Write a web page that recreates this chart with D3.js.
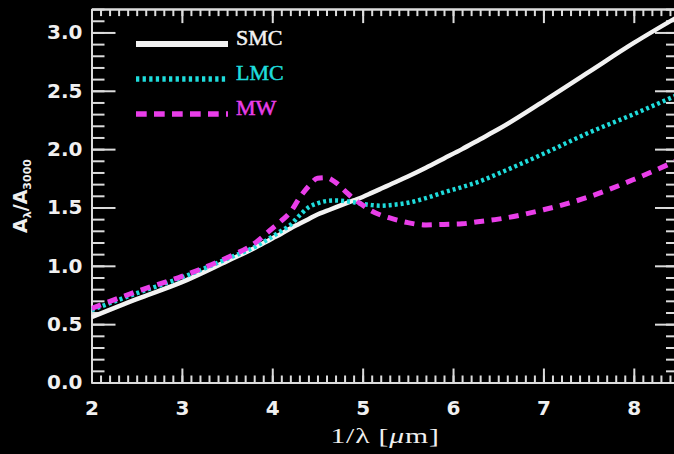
<!DOCTYPE html>
<html>
<head>
<meta charset="utf-8">
<script src="https://cdn.jsdelivr.net/npm/d3@7"></script>
<style>
  html, body { margin: 0; padding: 0; background: #000; }
  svg { display: block; }
</style>
</head>
<body>
<svg id="chart" width="674" height="454"></svg>
<script>
// Extinction curves normalised at 3000 Å, plotted against inverse wavelength.
const waveNumber = [2.0, 2.5, 3.0, 3.5, 3.8, 4.0, 4.1, 4.2, 4.3, 4.4, 4.5, 4.6, 4.7, 4.8, 4.9, 5.0,
                    5.1, 5.2, 5.3, 5.5, 5.7, 5.9, 6.1, 6.3, 6.5, 7.0, 7.5, 8.0, 8.5];
const smc = [0.56, 0.715, 0.86, 1.04, 1.15, 1.235, 1.275, 1.32, 1.36, 1.40, 1.44, 1.47, 1.50, 1.53, 1.56, 1.59,
             1.625, 1.66, 1.695, 1.765, 1.84, 1.92, 2.0, 2.085, 2.17, 2.41, 2.66, 2.91, 3.14];
const lmc = [0.62, 0.765, 0.90, 1.06, 1.16, 1.25, 1.30, 1.35, 1.43, 1.50, 1.535, 1.555, 1.56, 1.555, 1.545, 1.53,
             1.52, 1.515, 1.52, 1.54, 1.58, 1.63, 1.675, 1.725, 1.79, 1.96, 2.14, 2.30, 2.47];
const mw  = [0.635, 0.78, 0.91, 1.07, 1.19, 1.32, 1.385, 1.46, 1.58, 1.68, 1.75, 1.755, 1.715, 1.645, 1.575, 1.52,
             1.47, 1.435, 1.41, 1.37, 1.35, 1.355, 1.36, 1.38, 1.40, 1.48, 1.59, 1.74, 1.91];

const seriesNames = ["SMC", "LMC", "MW"];
const xMajorTicks = [2, 3, 4, 5, 6, 7, 8];
const yMajorTicks = [0.0, 0.5, 1.0, 1.5, 2.0, 2.5, 3.0];
const xMinorTicks = d3.range(20, 86).map(d => d / 10);
const yMinorTicks = d3.range(0, 33).map(d => d / 10);

const svg = d3.select("#chart");
svg.append("rect").attr("width", 674).attr("height", 454).attr("fill", "#000");

const plot = { left: 91.5, right: 679, top: 9.1, bottom: 382.5 };
const x = d3.scaleLinear().domain([2, 8.5]).range([plot.left, plot.right]);
const y = d3.scaleLinear().domain([0, 3.2]).range([plot.bottom, plot.top]);

const axisColor = "#dcdcdc";
const tickFont = "'DejaVu Sans', sans-serif";

function styleAxis(g) {
  g.selectAll("path.domain").attr("stroke", axisColor).attr("stroke-width", 2);
  g.selectAll(".tick line").attr("stroke", axisColor).attr("stroke-width", 2);
  g.selectAll(".tick text")
    .attr("fill", "#f0f0f0")
    .attr("font-family", tickFont)
    .attr("font-weight", "bold")
    .attr("font-size", 20);
}

// minor ticks on all four sides
svg.append("g").attr("transform", `translate(0,${plot.bottom})`)
  .call(d3.axisBottom(x).tickValues(xMinorTicks).tickSize(-7).tickSizeOuter(0).tickFormat(""))
  .call(styleAxis);
svg.append("g").attr("transform", `translate(0,${plot.top})`)
  .call(d3.axisTop(x).tickValues(xMinorTicks).tickSize(-7).tickSizeOuter(0).tickFormat(""))
  .call(styleAxis);
svg.append("g").attr("transform", `translate(${plot.left},0)`)
  .call(d3.axisLeft(y).tickValues(yMinorTicks).tickSize(-13).tickSizeOuter(0).tickFormat(""))
  .call(styleAxis);
svg.append("g").attr("transform", `translate(${plot.right},0)`)
  .call(d3.axisRight(y).tickValues(yMinorTicks).tickSize(-13).tickSizeOuter(0).tickFormat(""))
  .call(styleAxis);

// major ticks and labels
svg.append("g").attr("transform", `translate(0,${plot.bottom})`)
  .call(d3.axisBottom(x).tickValues(xMajorTicks).tickSize(-14).tickSizeOuter(0)
        .tickPadding(18).tickFormat(d3.format("d")))
  .call(styleAxis);
svg.append("g").attr("transform", `translate(0,${plot.top})`)
  .call(d3.axisTop(x).tickValues(xMajorTicks).tickSize(-14).tickSizeOuter(0).tickFormat(""))
  .call(styleAxis);
svg.append("g").attr("transform", `translate(${plot.left},0)`)
  .call(d3.axisLeft(y).tickValues(yMajorTicks).tickSize(-24).tickSizeOuter(0)
        .tickPadding(9).tickFormat(d3.format(".1f")))
  .call(styleAxis);
svg.append("g").attr("transform", `translate(${plot.right},0)`)
  .call(d3.axisRight(y).tickValues(yMajorTicks).tickSize(-24).tickSizeOuter(0).tickFormat(""))
  .call(styleAxis);

// curves
svg.append("clipPath").attr("id", "plot-clip")
  .append("rect")
  .attr("x", plot.left).attr("y", plot.top)
  .attr("width", plot.right - plot.left).attr("height", plot.bottom - plot.top);

const styles = {
  SMC: { values: smc, color: "#f2f2f2", dash: null, width: 4.5 },
  LMC: { values: lmc, color: "#1fdcdc", dash: "3,3", width: 4.5 },
  MW:  { values: mw,  color: "#e93ee9", dash: "10,7.5", width: 5 }
};

const line = d3.line()
  .x(d => x(d[0]))
  .y(d => y(d[1]))
  .curve(d3.curveMonotoneX);

const curves = svg.append("g").attr("clip-path", "url(#plot-clip)");
seriesNames.forEach(name => {
  const s = styles[name];
  curves.append("path")
    .datum(waveNumber.map((w, i) => [w, s.values[i]]))
    .attr("d", line)
    .attr("fill", "none")
    .attr("stroke", s.color)
    .attr("stroke-width", s.width)
    .attr("stroke-dasharray", s.dash);
});

// legend
const legendY = d3.scalePoint().domain(seriesNames).range([44, 114]);
const legend = svg.append("g");
seriesNames.forEach(name => {
  const s = styles[name];
  legend.append("line")
    .attr("x1", 136).attr("x2", 228)
    .attr("y1", legendY(name)).attr("y2", legendY(name))
    .attr("stroke", s.color)
    .attr("stroke-width", name === "SMC" ? 6 : 5.5)
    .attr("stroke-dasharray", name === "LMC" ? "3.3,3.3" : (name === "MW" ? "10.7,7.3" : null));
  legend.append("text")
    .attr("x", 236).attr("y", legendY(name) + 1)
    .attr("fill", s.color)
    .attr("font-family", "'Liberation Serif', serif")
    .attr("font-size", 22)
    .attr("stroke", s.color).attr("stroke-width", 0.5)
    .text(name);
});

// axis titles
svg.append("text")
  .attr("transform", "translate(385,443) scale(1.35,1)")
  .attr("text-anchor", "middle")
  .attr("fill", "#f0f0f0")
  .attr("font-family", "'Liberation Serif', serif")
  .attr("font-size", 22)
  .attr("letter-spacing", 0.6)
  .call(t => {
    t.append("tspan").text("1/λ [");
    t.append("tspan").attr("font-style", "italic").text("μ");
    t.append("tspan").text("m]");
  });

const yTitle = svg.append("text")
  .attr("transform", `translate(27,196) rotate(-90)`)
  .attr("text-anchor", "middle")
  .attr("fill", "#f0f0f0")
  .attr("font-family", tickFont)
  .attr("font-weight", "bold")
  .attr("font-size", 19);
yTitle.append("tspan").text("A");
yTitle.append("tspan").attr("font-size", 11).attr("dy", 4).text("λ");
yTitle.append("tspan").attr("dy", -4).text("/A");
yTitle.append("tspan").attr("font-size", 11).attr("dy", 4).text("3000");
</script>
</body>
</html>
